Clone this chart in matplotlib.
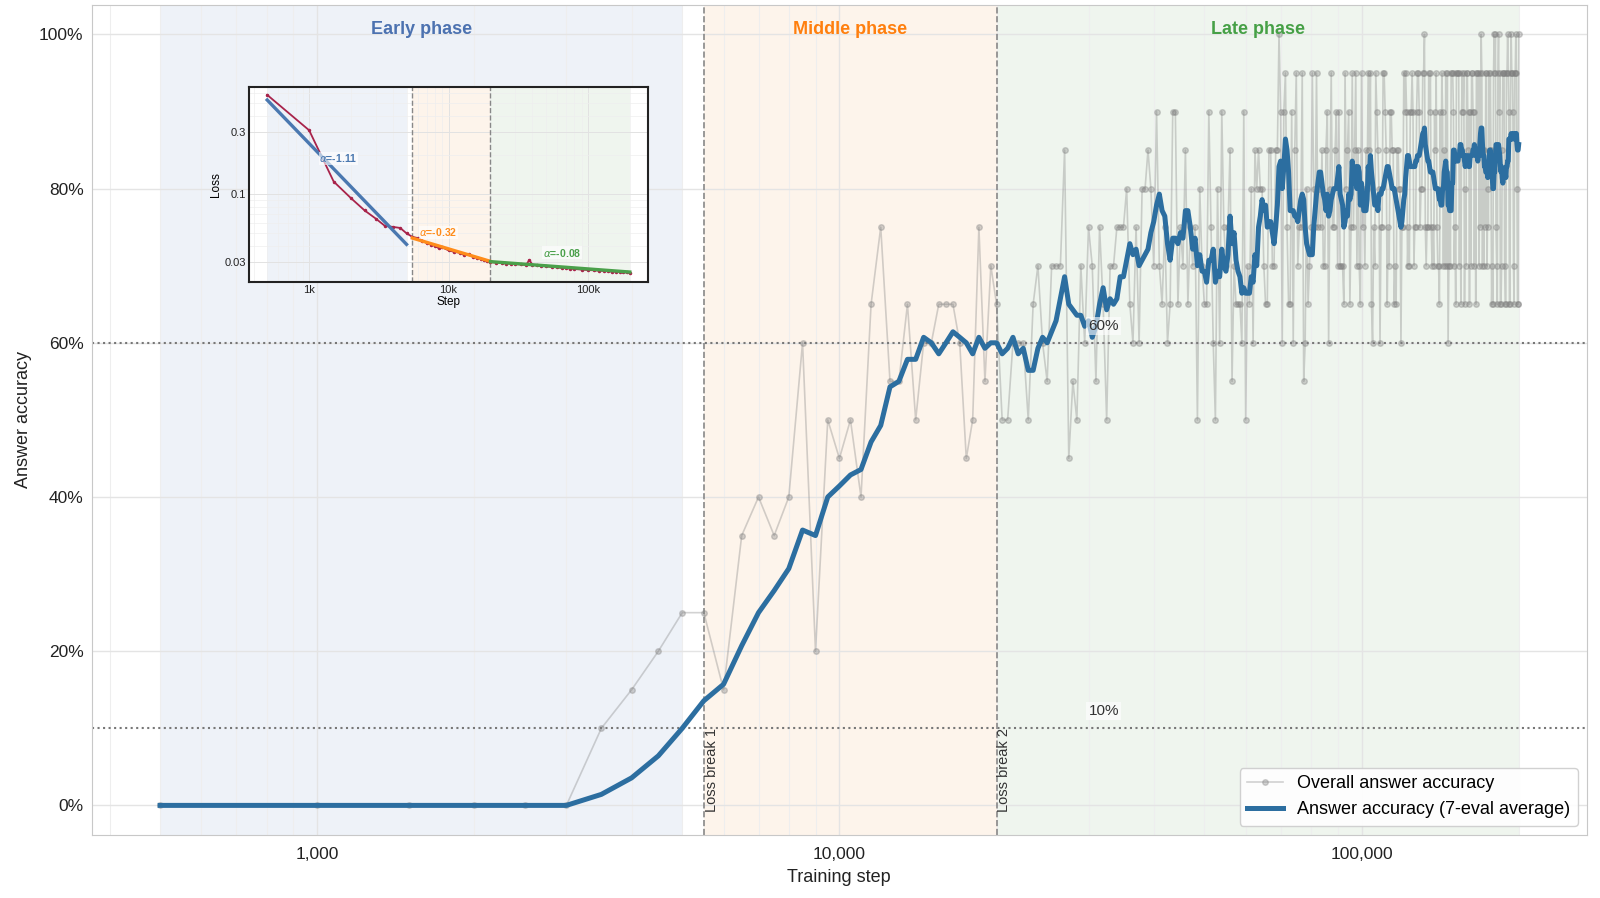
import numpy as np
import pandas as pd
import matplotlib
matplotlib.use("Agg")
import matplotlib.pyplot as plt
from matplotlib.ticker import PercentFormatter, LogLocator, NullFormatter

plt.rcParams['font.family'] = ['Liberation Sans', 'DejaVu Sans']

# answer accuracy (%), one eval every 500 steps, 500 .. 200000
steps = np.arange(500, 200001, 500)
acc_pct = [
    0, 0, 0, 0, 0, 0, 10, 15, 20, 25,
    25, 15, 35, 40, 35, 40, 60, 20, 50, 45,
    50, 40, 65, 75, 55, 55, 65, 50, 60, 60,
    65, 65, 65, 60, 45, 50, 75, 55, 70, 65,
    50, 50, 60, 60, 60, 50, 65, 70, 60, 55,
    70, 70, 70, 85, 45, 55, 50, 70, 60, 75,
    70, 55, 75, 65, 50, 70, 70, 75, 75, 75,
    80, 65, 60, 75, 60, 80, 80, 85, 80, 70,
    90, 70, 65, 75, 60, 65, 90, 90, 65, 75,
    70, 85, 65, 75, 70, 75, 50, 80, 70, 65,
    65, 90, 75, 60, 50, 80, 60, 90, 75, 70,
    75, 85, 55, 70, 65, 65, 65, 60, 90, 50,
    70, 65, 80, 60, 85, 80, 85, 80, 80, 70,
    65, 65, 85, 85, 70, 70, 85, 85, 100, 90,
    60, 90, 95, 75, 65, 65, 90, 60, 85, 95,
    70, 75, 75, 95, 55, 60, 80, 65, 70, 75,
    95, 80, 75, 95, 75, 80, 75, 85, 70, 70,
    85, 90, 60, 80, 95, 75, 75, 85, 90, 70,
    90, 70, 70, 70, 65, 95, 80, 85, 90, 65,
    75, 95, 75, 85, 95, 70, 85, 70, 65, 95,
    75, 80, 70, 85, 80, 95, 85, 95, 65, 60,
    75, 70, 95, 90, 85, 80, 60, 75, 75, 95,
    95, 90, 85, 65, 75, 70, 90, 90, 85, 85,
    65, 70, 65, 85, 85, 80, 80, 60, 75, 75,
    95, 90, 95, 90, 70, 75, 70, 90, 90, 95,
    90, 70, 75, 75, 90, 95, 95, 90, 75, 80,
    80, 95, 95, 100, 75, 70, 75, 75, 95, 90,
    95, 75, 70, 75, 70, 90, 85, 95, 75, 70,
    70, 65, 90, 80, 95, 90, 70, 85, 70, 95,
    70, 95, 60, 70, 80, 70, 95, 95, 95, 90,
    70, 75, 65, 95, 95, 95, 95, 70, 85, 65,
    90, 95, 90, 95, 65, 80, 70, 95, 95, 85,
    90, 65, 90, 70, 95, 95, 90, 90, 70, 85,
    65, 95, 95, 85, 95, 70, 95, 75, 100, 95,
    70, 85, 70, 85, 75, 95, 95, 70, 80, 75,
    95, 85, 95, 85, 65, 70, 65, 95, 100, 95,
    100, 75, 70, 65, 95, 100, 90, 95, 65, 65,
    70, 85, 95, 95, 95, 70, 65, 65, 95, 95,
    100, 95, 90, 65, 65, 95, 100, 95, 95, 90,
    70, 65, 95, 95, 100, 95, 80, 65, 65, 100,
]
acc = np.array(acc_pct) / 100
acc_avg = pd.Series(acc).rolling(7, min_periods=1).mean()

# training loss (inset)
loss_steps = [500, 1000, 1500, 2000, 2500, 3000, 3500, 4000, 4500, 5000,
              5500, 6000, 6500, 7000, 7500, 8000, 8500, 9000, 10000, 11000,
              12000, 13000, 14000, 15000, 16000, 17000, 18000, 19000, 20000, 22000,
              24000, 26000, 28000, 30000, 33000, 36000, 38000, 40000, 43000, 46000,
              50000, 55000, 60000, 65000, 70000, 75000, 80000, 90000, 100000, 110000,
              120000, 130000, 140000, 150000, 160000, 170000, 180000, 190000, 200000]
loss_vals = [0.58, 0.31, 0.125, 0.093, 0.075, 0.065, 0.057, 0.056, 0.055, 0.050,
             0.047, 0.046, 0.044, 0.042, 0.041, 0.040, 0.0385, 0.039, 0.037, 0.036,
             0.0355, 0.034, 0.0345, 0.033, 0.0325, 0.032, 0.031, 0.0308, 0.030, 0.0298,
             0.0296, 0.0293, 0.0292, 0.0290, 0.0288, 0.0285, 0.0312, 0.0287, 0.0283, 0.0281,
             0.0279, 0.0276, 0.0274, 0.0271, 0.0270, 0.0268, 0.0266, 0.0263, 0.0261, 0.0260,
             0.0258, 0.0257, 0.0255, 0.0254, 0.0253, 0.0252, 0.0251, 0.0250, 0.0249]

phase_names = ['Early phase', 'Middle phase', 'Late phase']
phase_bounds = [(500, 5000), (5500, 20000), (20000, 200000)]
phase_fill = ['#eef2f8', '#fdf4eb', '#eff5ee']
phase_color = ['#4c72b0', '#ff7f0e', '#46a046']
fit_alpha = [-1.11, -0.32, -0.08]
fit_start = [0.53, 0.046, 0.0303]
fit_color = ['#4a78b0', '#ff8c1a', '#4aa04a']
loss_breaks = [5500, 20000]
thresholds = [0.6, 0.1]

fig = plt.figure(figsize=(16, 8.98), dpi=100)
ax = fig.add_axes([0.0574, 0.0705, 0.9343, 0.9238])

for (a, b), c in zip(phase_bounds, phase_fill):
    ax.axvspan(a, b, color=c, lw=0, zorder=0)

ax.plot(steps, acc, color='gray', alpha=0.35, lw=1.2, marker='o', ms=4,
        label='Overall answer accuracy', zorder=2)
ax.plot(steps, acc_avg, color='#2c6ea0', lw=3.6,
        label='Answer accuracy (7-eval average)', zorder=3)

for t in thresholds:
    ax.axhline(t, color='#777777', ls=':', lw=1.5, zorder=1.5)
    ax.text(30000, t + 0.022, f'{t:.0%}', fontsize=11, color='#333333', ha='left', va='center',
            zorder=5, bbox=dict(facecolor='white', alpha=0.6, edgecolor='none', pad=1.5))

for i, b in enumerate(loss_breaks):
    ax.axvline(b, color='#888888', ls='--', lw=1.2, zorder=1.5)
    ax.text(b * 1.004, -0.008, f'Loss break {i + 1}', rotation=90, ha='left', va='bottom',
            fontsize=10.5, color='#333333')

for name, (a, b), c in zip(phase_names, phase_bounds, phase_color):
    ax.text(np.sqrt(a * b), 1.006, name, ha='center', va='center', fontsize=13,
            fontweight='bold', color=c)

ax.set_xscale('log')
ax.set_xlim(370, 270000)
ax.set_ylim(-0.038, 1.038)
ax.set_xticks([1000, 10000, 100000], labels=['1,000', '10,000', '100,000'])
ax.xaxis.set_minor_locator(LogLocator(base=10, subs=np.arange(2, 10)))
ax.xaxis.set_minor_formatter(NullFormatter())
ax.set_yticks([0, 0.2, 0.4, 0.6, 0.8, 1.0])
ax.yaxis.set_major_formatter(PercentFormatter(1.0, decimals=0))
ax.tick_params(which='both', length=0, labelsize=12.5, colors='#222222')
ax.tick_params(axis='x', pad=9)
ax.tick_params(axis='y', pad=6)
ax.grid(which='major', color='#e4e4e4', lw=1)
ax.grid(which='minor', axis='x', color='#eeeeee', lw=0.8)
ax.set_axisbelow(True)
for s in ax.spines.values():
    s.set_color('#c8c8c8')
ax.set_xlabel('Training step', fontsize=13, color='#222222', labelpad=5)
ax.set_ylabel('Answer accuracy', fontsize=13, color='#222222', labelpad=5)
ax.legend(loc='lower right', fontsize=13, frameon=True, framealpha=0.9,
          edgecolor='#cccccc', fancybox=True)

# inset: training loss, log-log
axin = fig.add_axes([0.1556, 0.6856, 0.2494, 0.2178])
axin.set_facecolor('white')
for (a, b), c in zip(phase_bounds, phase_fill):
    axin.axvspan(a, b, color=c, lw=0, zorder=0)
for b in loss_breaks:
    axin.axvline(b, color='#888888', ls='--', lw=1.0, zorder=1.5)
axin.plot(loss_steps, loss_vals, color='#a8234a', lw=1.3, marker='o', ms=1.5, zorder=3)
for (a, b), al, l0, c in zip(phase_bounds, fit_alpha, fit_start, fit_color):
    xs = np.array([a, b])
    axin.plot(xs, l0 * (xs / a) ** al, color=c, lw=2.4, zorder=4)

alpha_pos = [(1180, 0.189), (6170, 0.051), (47500, 0.0356)]
for (x, y), al, c in zip(alpha_pos, fit_alpha, fit_color):
    axin.text(x, y, rf'$\alpha$={al:.2f}', fontsize=7.5, fontweight='bold', color=c,
              ha='left', va='center', zorder=6,
              bbox=dict(facecolor='white', alpha=0.6, edgecolor='none', pad=0.3))

axin.set_xscale('log')
axin.set_yscale('log')
axin.set_xlim(370, 270000)
axin.set_ylim(0.021, 0.67)
axin.set_xticks([1000, 10000, 100000], labels=['1k', '10k', '100k'])
axin.set_yticks([0.03, 0.1, 0.3], labels=['0.03', '0.1', '0.3'])
axin.xaxis.set_minor_formatter(NullFormatter())
axin.yaxis.set_minor_formatter(NullFormatter())
axin.tick_params(which='both', length=0, labelsize=8, pad=2, colors='#222222')
axin.grid(which='major', color='#e2e2e2', lw=0.7)
axin.grid(which='minor', color='#eeeeee', lw=0.5)
axin.set_axisbelow(True)
for s in axin.spines.values():
    s.set_color('#222222')
    s.set_linewidth(1.5)
axin.set_xlabel('Step', fontsize=8.5, labelpad=1)
axin.set_ylabel('Loss', fontsize=8.5, labelpad=2)

fig.savefig('out.png', dpi=100)
